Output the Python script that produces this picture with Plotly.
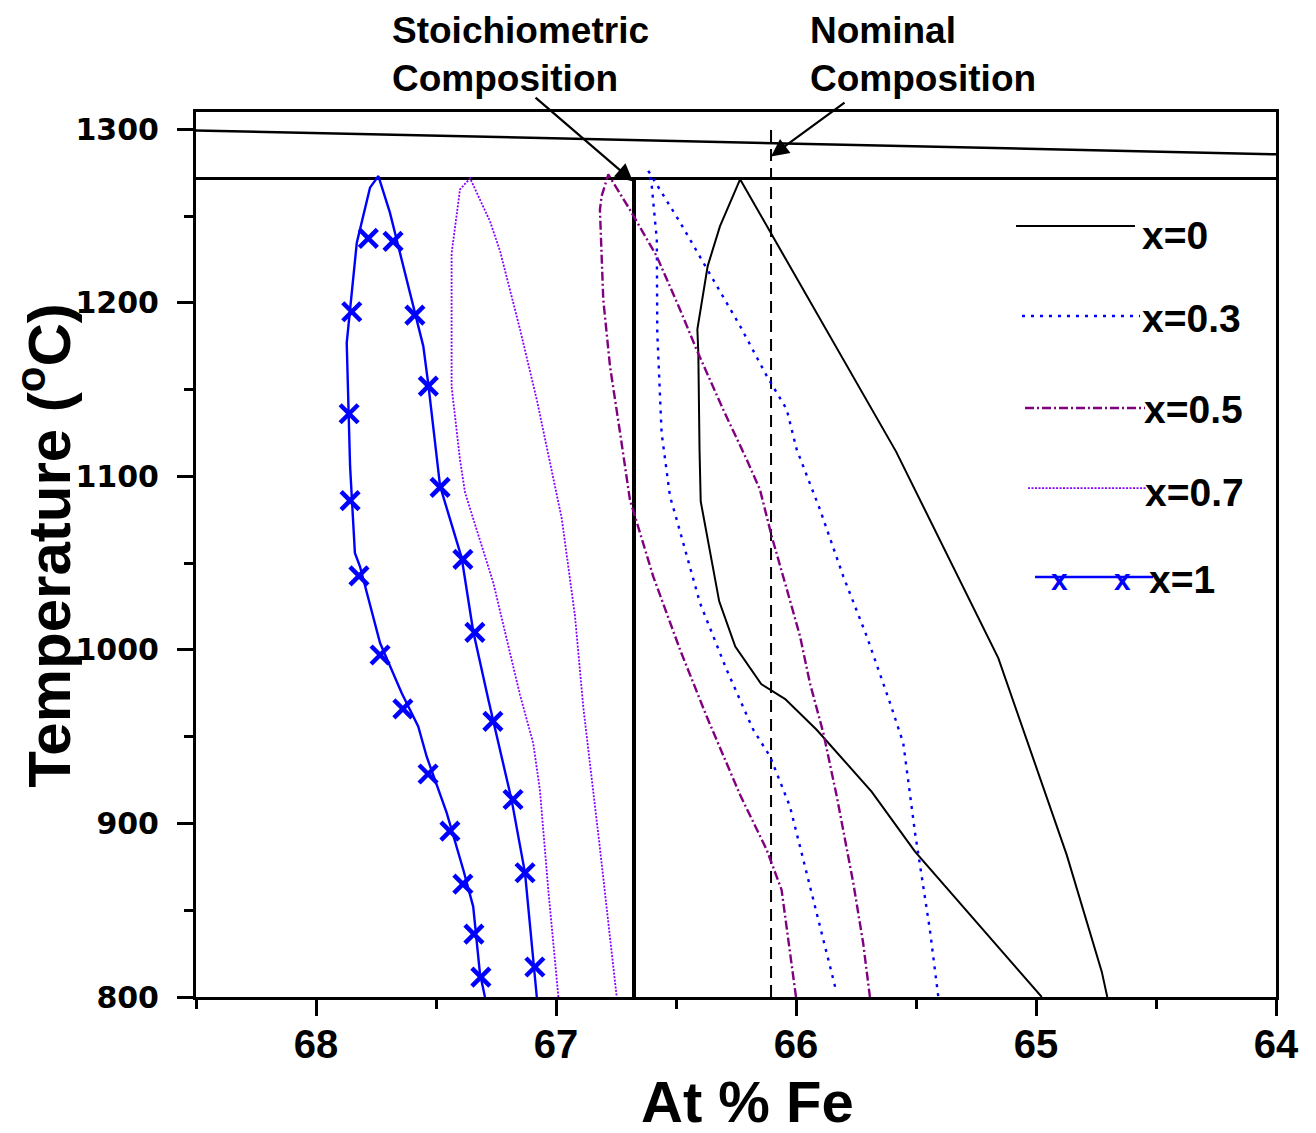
import plotly.graph_objects as go

# ---------------- data (At % Fe, Temperature in °C) ----------------
x0_fe = [64.976, 65.504, 65.685, 65.914, 66.045, 66.145, 66.253, 66.320, 66.397, 66.402,
         66.407, 66.411, 66.368, 66.317, 66.233, 65.583, 65.157, 64.872, 64.726, 64.703]
x0_t = [800, 883.8, 918.4, 954.0, 971.7, 980.3, 1002.0, 1028.0, 1085.6, 1115.5,
        1171.4, 1184.7, 1221.2, 1244.1, 1271.2, 1114.3, 995.3, 881.9, 814.6, 800]

x03_fe = [65.837, 65.942, 66.025, 66.108, 66.178, 66.289, 66.400, 66.497, 66.525, 66.560,
          66.578, 66.580, 66.601, 66.615, 66.483, 66.330, 66.233, 66.122, 66.039, 65.997,
          65.900, 65.803, 65.705, 65.608, 65.553, 65.504, 65.442, 65.407]
x03_t = [805.9, 863.6, 909.7, 938.6, 954.0, 988.6, 1027.0, 1075.1, 1088.5, 1125.1,
         1182.8, 1236.6, 1267.4, 1276.0, 1246.4, 1209.8, 1186.7, 1157.9, 1138.7, 1115.5,
         1080.9, 1042.4, 1007.8, 969.4, 946.3, 894.6, 838.6, 800]

x05_fe = [66.000, 66.025, 66.060, 66.122, 66.233, 66.372, 66.483, 66.595, 66.678, 66.692,
          66.733, 66.775, 66.803, 66.817, 66.810, 66.782, 66.692, 66.580, 66.483, 66.414,
          66.303, 66.205, 66.150, 66.101, 66.025, 65.983, 65.942, 65.886, 65.830, 65.761,
          65.720, 65.692]
x05_t = [800, 827.1, 861.7, 884.8, 916.5, 961.6, 1000.1, 1042.4, 1080.9, 1086.6,
         1125.1, 1163.5, 1201.8, 1253.7, 1261.5, 1274.0, 1253.7, 1226.8, 1196.1, 1173.0,
         1138.4, 1109.6, 1092.3, 1065.4, 1028.5, 1007.8, 980.9, 952.1, 915.5, 865.5,
         830.9, 800]

x07_fe = [66.990, 67.032, 67.067, 67.095, 67.150, 67.261, 67.379, 67.400, 67.435, 67.435,
          67.400, 67.358, 67.275, 67.233, 67.150, 67.080, 66.976, 66.921, 66.886, 66.817,
          66.747]
x07_t = [800, 861.5, 919.2, 946.3, 974.1, 1038.6, 1090.7, 1109.6, 1151.7, 1228.5,
         1265.4, 1271.8, 1247.0, 1229.8, 1184.8, 1144.2, 1075.7, 1019.7, 966.7, 885.8,
         800]

x1_fe = [67.296, 67.317, 67.345, 67.386, 67.455, 67.539, 67.574, 67.643, 67.733, 67.817,
         67.838, 67.858, 67.872, 67.830, 67.775, 67.740, 67.692, 67.608, 67.553, 67.532,
         67.483, 67.393, 67.345, 67.282, 67.261, 67.185, 67.129, 67.080]
x1_t = [800, 813.7, 852.1, 873.2, 906.0, 938.6, 955.9, 975.2, 1004.0, 1048.2,
        1055.9, 1105.9, 1177.0, 1234.7, 1266.4, 1273.1, 1252.0, 1205.9, 1175.1, 1153.0,
        1094.4, 1053.1, 1010.8, 971.4, 958.9, 913.6, 871.4, 800]

x1_mark_fe = [67.782, 67.851, 67.862, 67.858, 67.821, 67.733, 67.638, 67.533, 67.442, 67.388,
              67.342, 67.313, 67.679, 67.588, 67.532, 67.483, 67.388, 67.338, 67.263, 67.179,
              67.129, 67.088]
x1_mark_t = [1237.2, 1194.9, 1136.1, 1086.0, 1042.7, 997.1, 966.0, 928.5, 895.6, 865.0,
             836.2, 811.5, 1235.4, 1192.9, 1152.0, 1093.7, 1052.2, 1010.1, 958.8, 913.8,
             871.6, 817.3]

upper_fe = [68.5, 64.0]
upper_t = [1299.4, 1285.6]
solvus_top_fe = [68.5, 64.0]
solvus_top_t = [1271.7, 1271.7]
stoich_fe = [66.675, 66.675]
stoich_t = [800, 1271.7]
nominal_fe = [66.104, 66.104]
nominal_t = [800, 1301]

x_ticks = [68, 67, 66, 65, 64]
y_ticks = [800, 900, 1000, 1100, 1200, 1300]

series_names = ["x=0", "x=0.3", "x=0.5", "x=0.7", "x=1"]

# ---------------- figure ----------------
BLUE = "#0000FF"
PURPLE = "#800080"
VIOLET = "#8A00FF"
SANS = "Liberation Sans, Arial, sans-serif"

fig = go.Figure()

fig.add_trace(go.Scatter(x=upper_fe, y=upper_t, mode="lines",
                         line=dict(color="black", width=2.5), hoverinfo="skip"))
fig.add_trace(go.Scatter(x=solvus_top_fe, y=solvus_top_t, mode="lines",
                         line=dict(color="black", width=3), hoverinfo="skip"))
fig.add_trace(go.Scatter(x=stoich_fe, y=stoich_t, mode="lines",
                         line=dict(color="black", width=4), hoverinfo="skip"))
fig.add_trace(go.Scatter(x=nominal_fe, y=nominal_t, mode="lines",
                         line=dict(color="black", width=2, dash="12px,7px"), hoverinfo="skip"))

fig.add_trace(go.Scatter(x=x0_fe, y=x0_t, mode="lines", name=series_names[0],
                         line=dict(color="black", width=2)))
fig.add_trace(go.Scatter(x=x03_fe, y=x03_t, mode="lines", name=series_names[1],
                         line=dict(color=BLUE, width=2.4, dash="3px,6px")))
fig.add_trace(go.Scatter(x=x05_fe, y=x05_t, mode="lines", name=series_names[2],
                         line=dict(color=PURPLE, width=2.4, dash="9px,3px,2px,3px")))
fig.add_trace(go.Scatter(x=x07_fe, y=x07_t, mode="lines", name=series_names[3],
                         line=dict(color=VIOLET, width=1.8, dash="2px,1.5px")))
fig.add_trace(go.Scatter(x=x1_fe, y=x1_t, mode="lines", name=series_names[4],
                         line=dict(color=BLUE, width=2.4)))
fig.add_trace(go.Scatter(x=x1_mark_fe, y=x1_mark_t, mode="markers", name=series_names[4],
                         marker=dict(symbol="x-thin", size=18, color=BLUE,
                                     line=dict(color=BLUE, width=4.5))))

# ---------------- manual legend (paper coords) ----------------
legend_rows = [
    # (x0, x1, y_line, label_x, label_y, color, width, dash)
    (0.7593, 0.8694, 0.8712, 0.8741, 0.8599, "black", 2, "solid"),
    (0.7648, 0.8741, 0.7695, 0.8741, 0.7672, BLUE, 2.4, "3px,6px"),
    (0.7676, 0.8787, 0.6655, 0.8759, 0.6633, PURPLE, 2.4, "9px,3px,2px,3px"),
    (0.7704, 0.8796, 0.5751, 0.8769, 0.5706, VIOLET, 1.8, "2px,1.5px"),
    (0.7769, 0.8861, 0.4746, 0.8806, 0.4712, BLUE, 2.4, "solid"),
]
shapes = []
annotations = []
for (lx0, lx1, ly, tx, ty, col, w, d), name in zip(legend_rows, series_names):
    shapes.append(dict(type="line", xref="paper", yref="paper", x0=lx0, x1=lx1, y0=ly, y1=ly,
                       line=dict(color=col, width=w, dash=d), layer="above"))
    annotations.append(dict(xref="paper", yref="paper", x=tx, y=ty, text=name, showarrow=False,
                            xanchor="left", yanchor="middle",
                            font=dict(family=SANS, size=39, color="black", weight="bold")))
for mx in (0.7999, 0.8583):
    annotations.append(dict(xref="paper", yref="paper", x=mx, y=0.4712, text="x", showarrow=False,
                            xanchor="center", yanchor="middle",
                            font=dict(family=SANS, size=30, color=BLUE, weight="bold")))

# ---------------- annotations with arrows ----------------
annotations.append(dict(xref="paper", yref="paper", x=0.1796, y=1.1175, xanchor="left", yanchor="top",
                        align="left", text="Stoichiometric<br>Composition", showarrow=False,
                        font=dict(family=SANS, size=37, color="black", weight="bold")))
annotations.append(dict(xref="paper", yref="paper", x=0.5667, y=1.1175, xanchor="left", yanchor="top",
                        align="left", text="Nominal<br>Composition", showarrow=False,
                        font=dict(family=SANS, size=37, color="black", weight="bold")))
annotations.append(dict(x=66.679, y=1270.0, xref="x", yref="y", text="", showarrow=True,
                        ax=-99, ay=-85, arrowhead=2, arrowsize=1.6, arrowwidth=2.2, arrowcolor="black"))
annotations.append(dict(x=66.104, y=1284.4, xref="x", yref="y", text="", showarrow=True,
                        ax=75, ay=-55, arrowhead=2, arrowsize=1.6, arrowwidth=2.2, arrowcolor="black"))

# ---------------- axis titles ----------------
annotations.append(dict(xref="paper", yref="paper", x=0.5102, y=-0.1565, text="At % Fe",
                        showarrow=False, xanchor="center", yanchor="bottom",
                        font=dict(family=SANS, size=58, color="black", weight="bold")))
annotations.append(dict(xref="paper", yref="paper", x=-0.1400, y=0.5107,
                        text="Temperature (<sup>o</sup>C)", textangle=-90,
                        showarrow=False, xanchor="center", yanchor="middle",
                        font=dict(family=SANS, size=60, color="black", weight="bold")))

fig.update_layout(
    width=1316, height=1133,
    margin=dict(l=196, r=40, t=112, b=136),
    plot_bgcolor="white", paper_bgcolor="white",
    showlegend=False,
    shapes=shapes, annotations=annotations,
    xaxis=dict(range=[68.5, 64], tickmode="array", tickvals=x_ticks,
               ticktext=[str(v) for v in x_ticks],
               ticks="outside", ticklen=16, tickwidth=3, tickcolor="black",
               showline=True, linewidth=3, linecolor="black", mirror=True,
               showgrid=False, zeroline=False, ticklabelstandoff=-6,
               minor=dict(ticks="outside", ticklen=9, tickwidth=2.5, tickcolor="black",
                          dtick=0.5, tick0=64, showgrid=False),
               tickfont=dict(family="Liberation Sans Narrow, Liberation Sans, Arial", size=40,
                             color="black", weight="bold")),
    yaxis=dict(range=[800, 1310], tickmode="array", tickvals=y_ticks,
               ticktext=[str(v) for v in y_ticks],
               ticks="outside", ticklen=16, tickwidth=3, tickcolor="black",
               showline=True, linewidth=3, linecolor="black", mirror=True,
               showgrid=False, zeroline=False, ticklabelstandoff=12,
               minor=dict(ticks="outside", ticklen=9, tickwidth=2.5, tickcolor="black",
                          dtick=50, tick0=800, showgrid=False),
               tickfont=dict(family="DejaVu Sans, sans-serif", size=30,
                             color="black", weight="bold")),
)

fig.write_html("out.html")
